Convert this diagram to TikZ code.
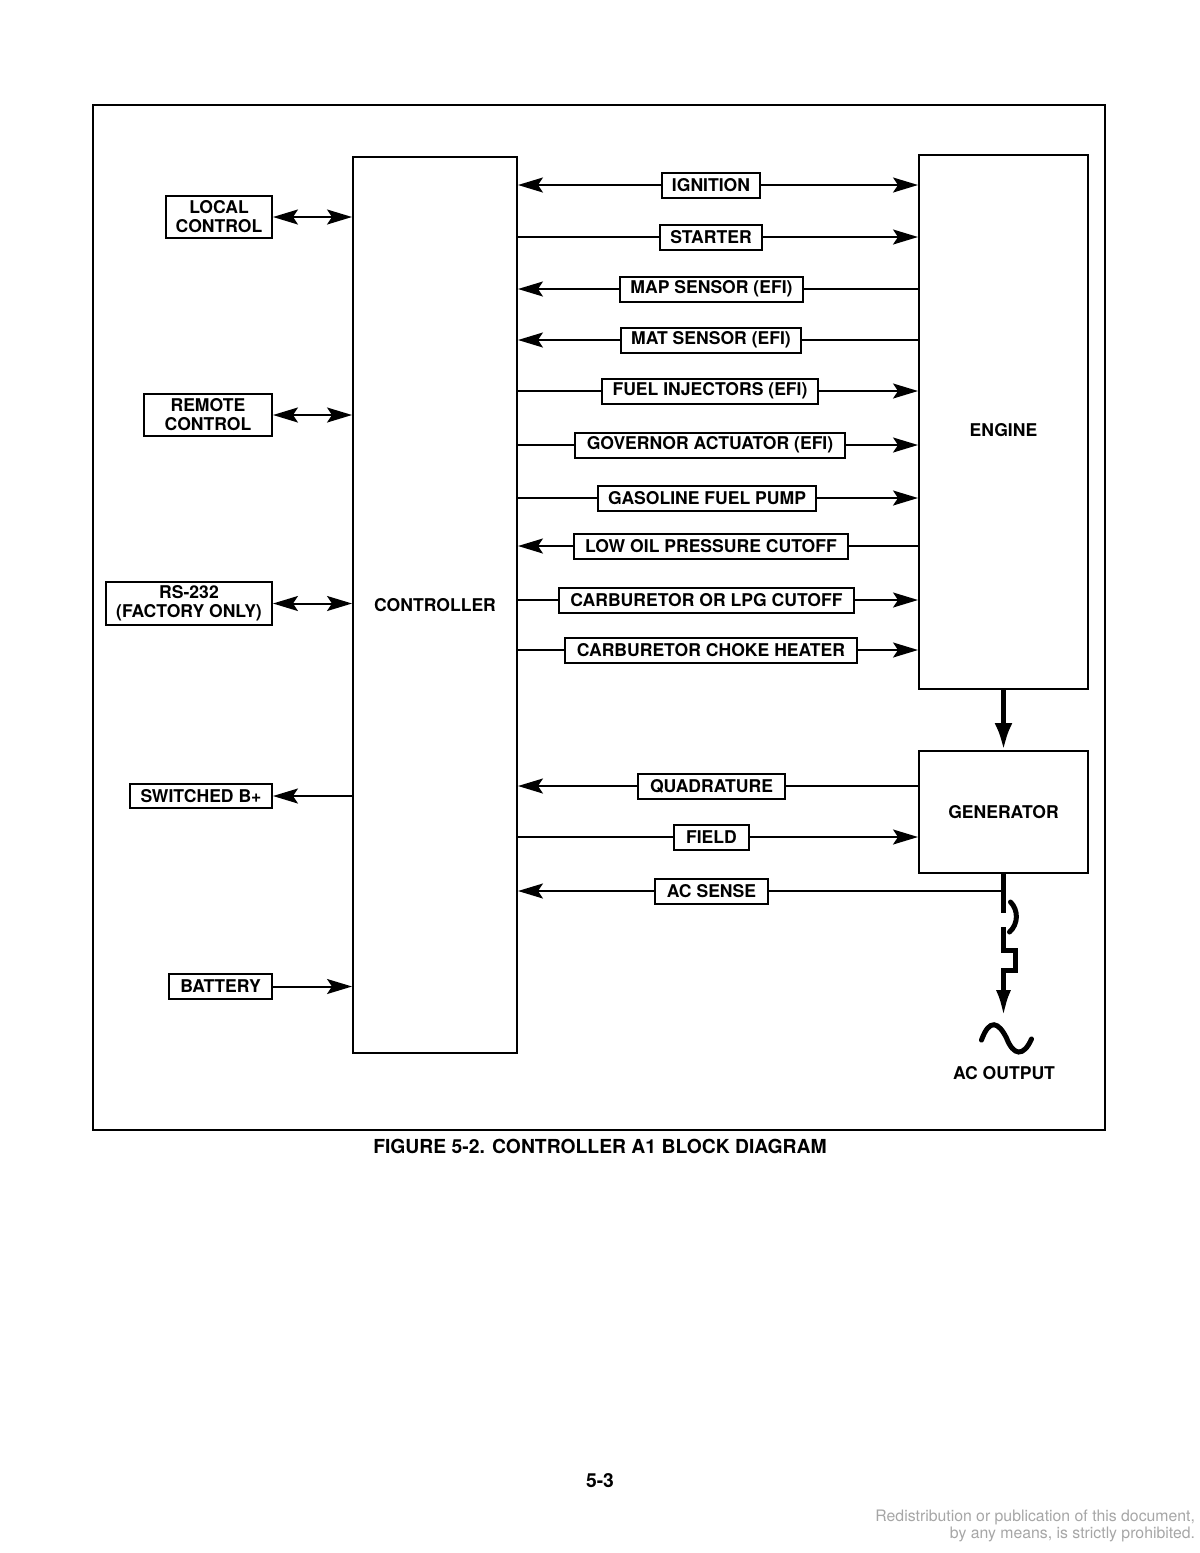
\documentclass[tikz,border=0pt]{standalone}
\usepackage{fontspec}
\setmainfont{TeX Gyre Heros}
\usetikzlibrary{arrows.meta}

\begin{document}
\begin{tikzpicture}[x=0.02cm, y=-0.02cm, line width=0.04cm,
  every node/.style={font=\fontsize{10}{10.8}\selectfont\bfseries},
  blk/.style={draw, inner sep=0pt},
  sig/.style={draw, fill=white, inner sep=0pt, minimum height=0.5cm},
  heavy/.style={line width=0.1cm},
  >={Stealth[length=0.5cm, width=0.3cm, inset=0.1cm]}]

\useasboundingbox (0,0) rectangle (1200,1553);

% Frame
\draw (93,105) rectangle (1105,1130);

% Main blocks
\node[blk, minimum width=3.28cm, minimum height=17.92cm] (ctrl) at (435,605) {CONTROLLER};
\node[blk, minimum width=3.38cm, minimum height=10.68cm] (eng) at (1003.5,422) {};
\node (englbl) at (1003.5,430) {ENGINE};
\node[blk, minimum width=3.38cm, minimum height=2.44cm] (gen) at (1003.5,812) {GENERATOR};

% Left side
\node[blk, align=center, minimum width=2.12cm, minimum height=0.84cm] (local) at (219,217) {LOCAL\\CONTROL};
\node[blk, align=center, minimum width=2.56cm, minimum height=0.84cm] (remote) at (208,415) {REMOTE\\CONTROL};
\node[blk, align=center, minimum width=3.32cm, minimum height=0.86cm] (rs) at (189,603.5) {RS-232\\(FACTORY ONLY)};
\node[blk, minimum width=2.84cm, minimum height=0.48cm] (swb) at (201,796) {SWITCHED B+};
\node[blk, minimum width=2.06cm, minimum height=0.5cm] (batt) at (220.5,986.5) {BATTERY};

\draw[<->] (local) -- (ctrl.west |- local);
\draw[<->] (remote) -- (ctrl.west |- remote);
\draw[<->] (rs) -- (ctrl.west |- rs);
\draw[->] (ctrl.west |- swb) -- (swb);
\draw[->] (batt) -- (ctrl.west |- batt);

% Engine signals
\foreach \name/\x/\y/\w/\lta/\rta/\txt in {
    ign/711/185/1.96/<-/->/IGNITION,
    start/711/237/2.04/-/->/STARTER,
    map/711.5/289/3.66/<-/-/MAP SENSOR (EFI),
    mat/711/340/3.6/<-/-/MAT SENSOR (EFI),
    inj/710/391/4.32/-/->/FUEL INJECTORS (EFI),
    gov/710/445/5.4/-/->/GOVERNOR ACTUATOR (EFI),
    pump/707/498/4.36/-/->/GASOLINE FUEL PUMP,
    oil/711/546/5.48/<-/-/LOW OIL PRESSURE CUTOFF,
    lpg/706.5/600/5.9/-/->/CARBURETOR OR LPG CUTOFF,
    choke/711/650/5.84/-/->/CARBURETOR CHOKE HEATER}
{
    \node[sig, minimum width=\w cm] (\name) at (\x,\y) {\txt};
    \draw[\lta] (ctrl.east |- \name) -- (\name);
    \draw[\rta] (\name) -- (eng.west |- \name);
}

% Generator signals
\foreach \name/\x/\y/\w/\lta/\rta/\txt in {
    quad/711.5/786/2.94/<-/-/QUADRATURE,
    field/711.5/837/1.5/-/->/FIELD}
{
    \node[sig, minimum width=\w cm] (\name) at (\x,\y) {\txt};
    \draw[\lta] (ctrl.east |- \name) -- (\name);
    \draw[\rta] (\name) -- (gen.west |- \name);
}

\node[sig, minimum width=2.26cm] (acs) at (711.5,891) {AC SENSE};
\coordinate (tap) at (gen.south |- acs);
\draw[<-] (ctrl.east |- acs) -- (acs);
\draw (acs) -- (tap);

% Engine to generator
\draw[heavy, -{Latex[length=0.54cm, width=0.36cm]}] (eng.south) -- (gen.north);

% Output breaker
\draw[heavy] (gen.south) -- ++(0,39);
\draw[heavy, line cap=round] (1010.5,902) .. controls (1018.5,910) and (1018.5,924) .. (1009.5,932);
\draw[heavy, -{Latex[length=0.54cm, width=0.3cm]}] (1003.5,927) -- (1003.5,950) -- (1015.5,950)
    -- (1015.5,970) -- (1003.5,970) -- (1003.5,1017);
\draw[heavy, line cap=round] (981.5,1040) .. controls (989.5,1018) and (998.5,1022) .. (1006.5,1038)
    .. controls (1013.5,1056) and (1023.5,1057) .. (1031.5,1039);
\node (acout) at (1004,1073) {AC OUTPUT};

% Captions
\node[font=\fontsize{11}{13}\selectfont\bfseries] (caption) at (600,1146) {FIGURE 5-2. CONTROLLER A1 BLOCK DIAGRAM};
\node[font=\fontsize{11}{13}\selectfont\bfseries] (page) at (600,1481) {5-3};
\node[font=\fontsize{9}{9.6}\selectfont, text=black!35, align=right, anchor=east, inner sep=0pt]
    (note) at (1196,1526) {Redistribution or publication of this document,\\by any means, is strictly prohibited.};

\end{tikzpicture}
\end{document}
